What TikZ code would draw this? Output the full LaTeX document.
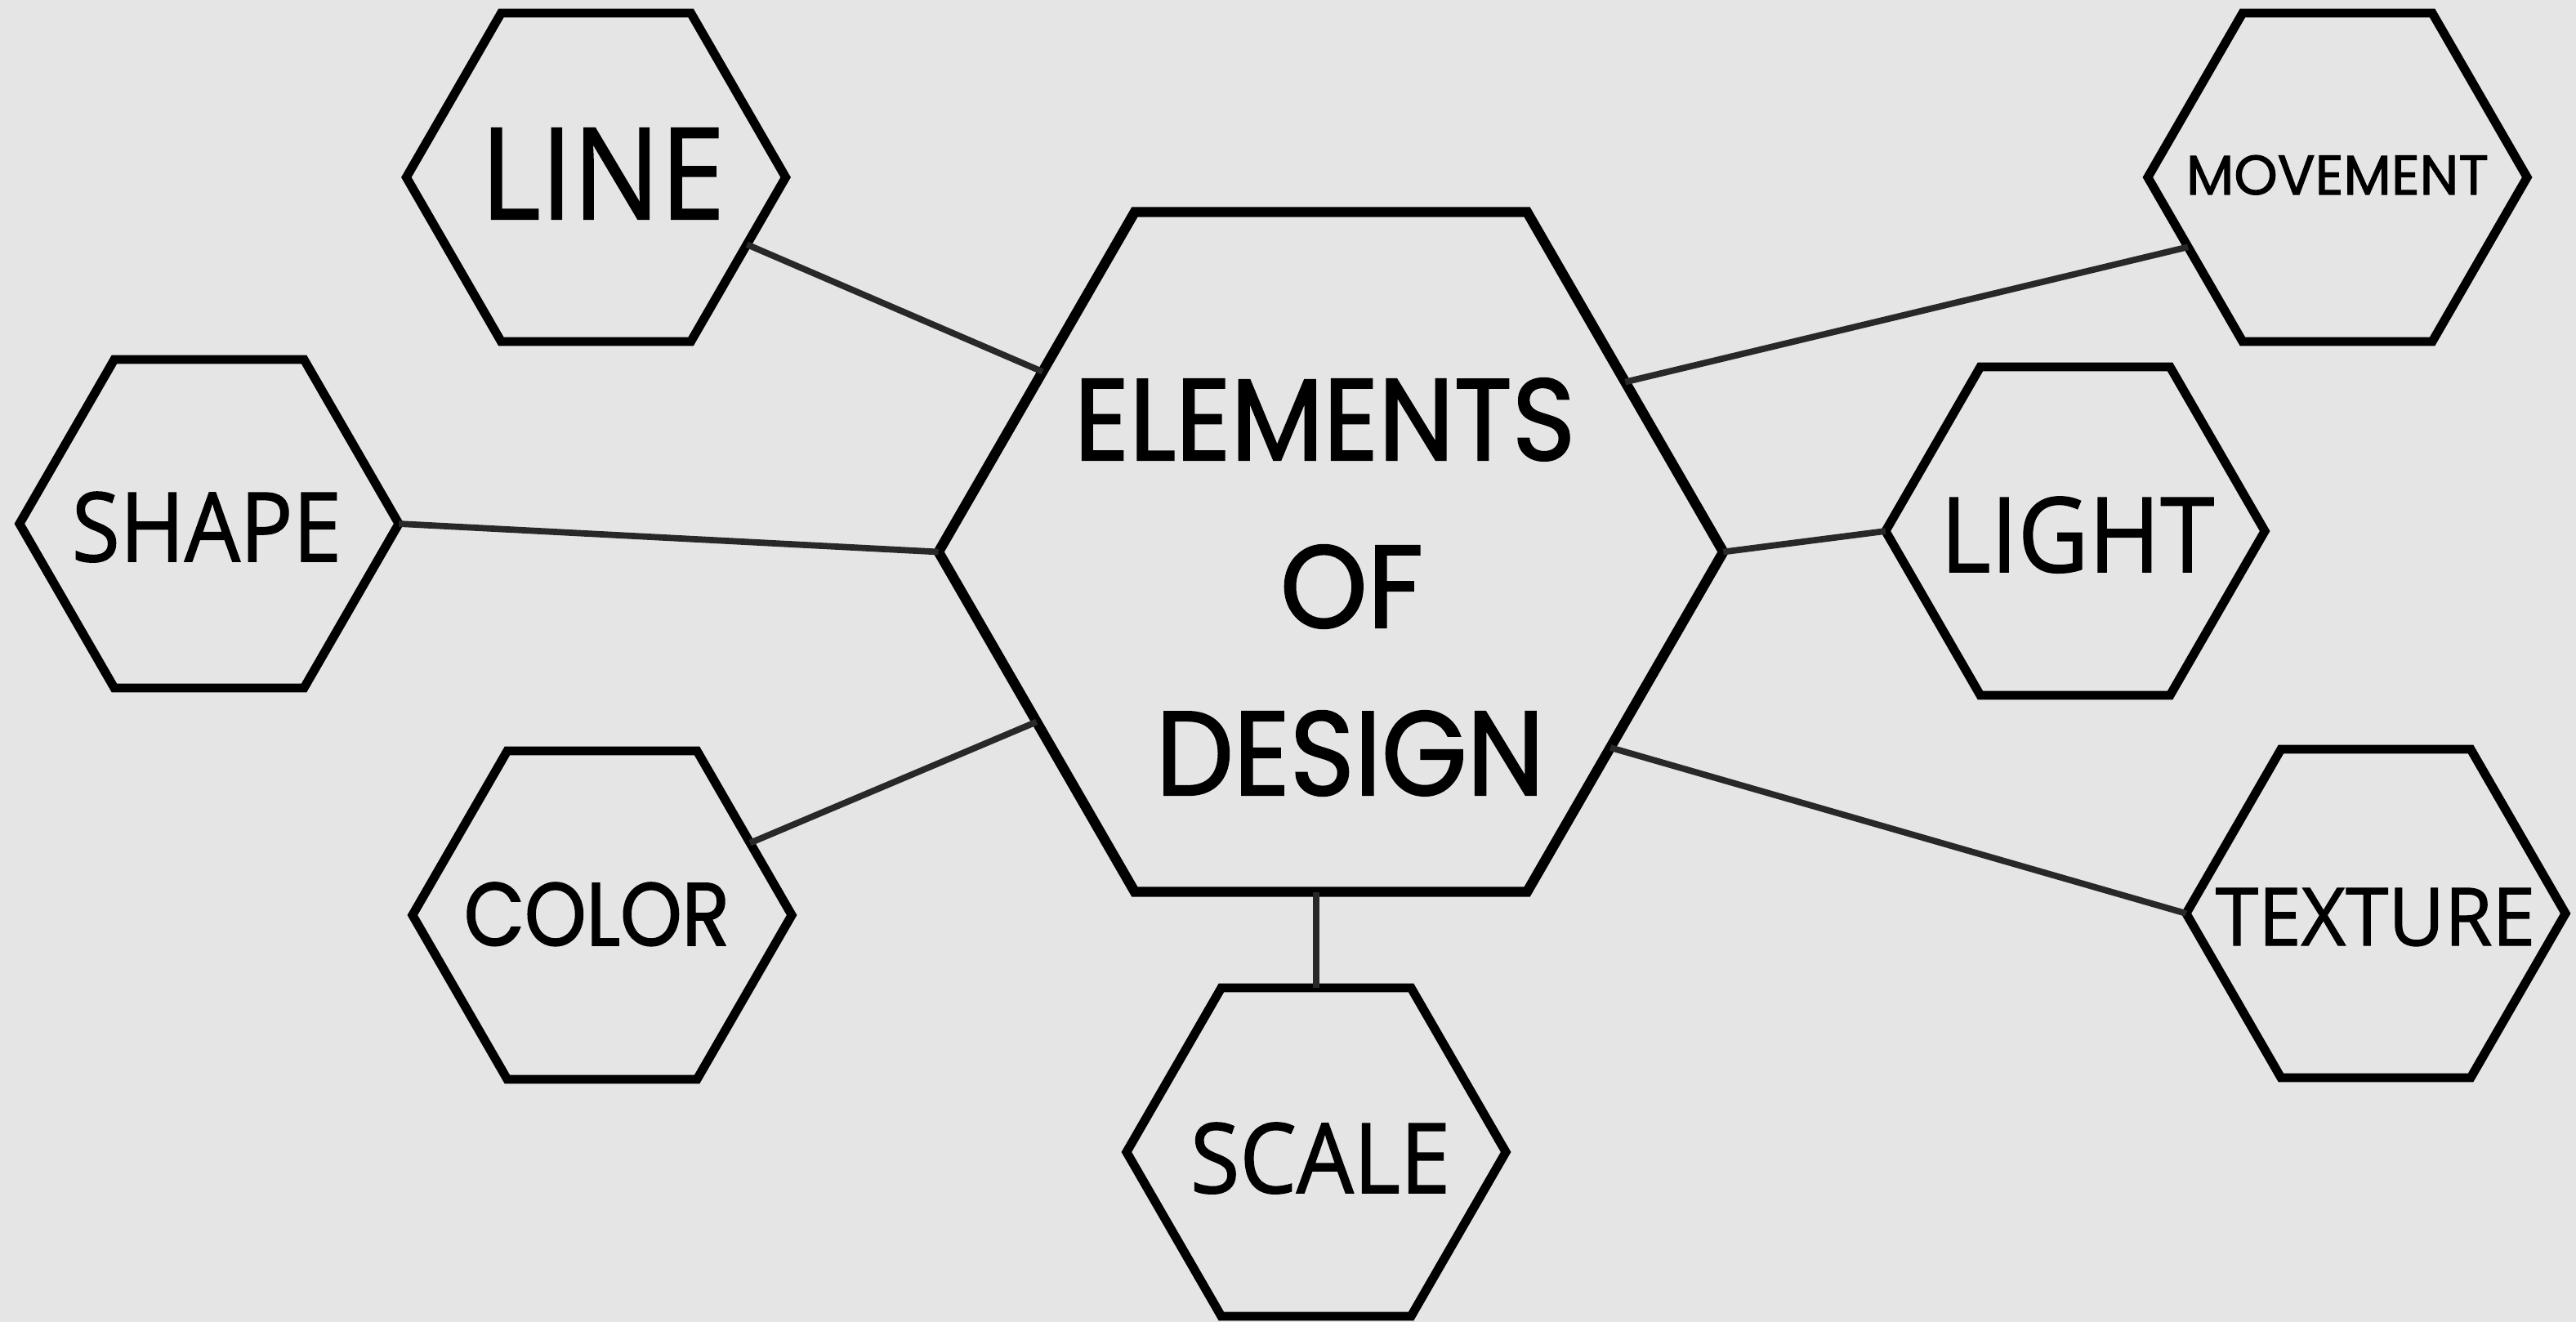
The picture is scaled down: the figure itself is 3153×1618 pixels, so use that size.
\documentclass[tikz,border=0pt]{standalone}
\usepackage{fontspec}
\usepackage{graphicx}
\setmainfont{Open Sans}[FakeBold=1.3]
\newfontfamily\geo{Poppins}[FakeBold=1.6]
\usetikzlibrary{shapes.geometric}
\definecolor{bgc}{RGB}{229,229,229}
\definecolor{conn}{RGB}{40,40,40}
\newcommand\fitlbl[3]{\resizebox{#1cm}{#2cm}{#3}}
\begin{document}
\begin{tikzpicture}[x=0.01cm,y=-0.01cm,
  hexa/.style={regular polygon, regular polygon sides=6, draw=black,
    line width=3.1pt, inner sep=0pt, outer sep=0pt, minimum size=4.64cm},
  bighex/.style={hexa, minimum size=9.6cm, line width=3.5pt},
  link/.style={draw=conn, line width=2.2pt},
  lbl/.style={inner sep=0pt, outer sep=0pt, anchor=base}]
\fill[bgc] (0,0) rectangle (3153,1618);
\useasboundingbox (0,0) rectangle (3153,1618);

% hexagons
\node[bighex] (center) at (1629,675.5) {};
\node[hexa] (line) at (729.5,217) {};
\node[hexa] (shape) at (256,641) {};
\node[hexa] (color) at (737,1120) {};
\node[hexa] (scale) at (1611,1410) {};
\node[hexa] (light) at (2540,650) {};
\node[hexa] (movement) at (2861,217) {};
\node[hexa] (texture) at (2908,1118) {};

% labels
\node[lbl] (t1) at (1621.5,563) {\fitlbl{6.13}{1.00}{\geo ELEMENTS}};
\node[lbl] (t2) at (1654.5,768) {\fitlbl{1.75}{1.01}{\geo OF}};
\node[lbl] (t3) at (1652.5,973) {\fitlbl{4.75}{1.03}{\geo DESIGN}};
\node[lbl] (tline) at (737.5,268) {\fitlbl{2.99}{1.11}{LINE}};
\node[lbl] (tshape) at (253,687) {\fitlbl{3.30}{0.85}{SHAPE}};
\node[lbl] (tcolor) at (730.5,1157) {\fitlbl{3.25}{0.77}{\geo COLOR}};
\node[lbl] (tscale) at (1616,1460) {\fitlbl{3.18}{0.86}{SCALE}};
\node[lbl] (tlight) at (2542.5,700) {\fitlbl{3.35}{0.92}{LIGHT}};
\node[lbl] (ttexture) at (2907.5,1157) {\fitlbl{3.91}{0.70}{TEXTURE}};
\node[lbl] (tmove) at (2861,238) {\fitlbl{3.70}{0.48}{\geo MOVEMENT}};

% connectors
\draw[link] (line.-24.4) -- (center.148);
\draw[link] (shape.0) -- (center.180);
\draw[link] (color.26.3) -- (center.210.3);
\draw[link] (scale.north) -- (scale.north |- center.south);
\draw[link] (center.0) -- (light.180);
\draw[link] (center.30.4) -- (movement.205);
\draw[link] (center.-35) -- (texture.180);
\end{tikzpicture}
\end{document}
